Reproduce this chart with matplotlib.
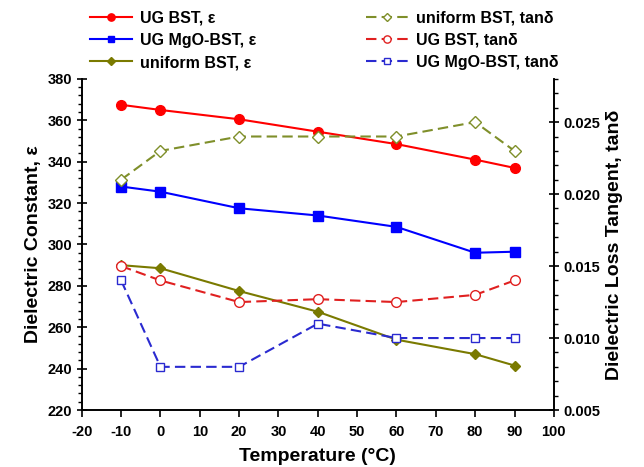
import matplotlib
matplotlib.use("Agg")
import matplotlib.pyplot as plt
from matplotlib.ticker import MultipleLocator, FormatStrFormatter

plt.rcParams['font.family'] = ['Liberation Sans', 'DejaVu Sans']
plt.rcParams['font.weight'] = 'bold'
plt.rcParams['axes.unicode_minus'] = False

temp = [-10, 0, 20, 40, 60, 80, 90]

# dielectric constant (left axis)
eps_ug_bst = [367.5, 365, 360.5, 354.5, 348.5, 341, 337]
eps_ug_mgo = [328, 325.5, 317.5, 314, 308.5, 296, 296.5]
eps_uniform = [290, 288.5, 277.5, 267.5, 254, 247, 241.5]

# loss tangent (right axis)
tan_uniform = [0.021, 0.023, 0.024, 0.024, 0.024, 0.025, 0.023]
tan_ug_bst = [0.015, 0.014, 0.0125, 0.0127, 0.0125, 0.013, 0.014]
tan_ug_mgo = [0.014, 0.008, 0.008, 0.011, 0.010, 0.010, 0.010]

fig = plt.figure(figsize=(6.44, 4.67), dpi=100)
ax = fig.add_axes([0.127, 0.122, 0.733, 0.709])
ax2 = ax.twinx()

h1, = ax.plot(temp, eps_ug_bst, '-o', color='#ff0000', lw=1.5, ms=7,
              label='UG BST, \u03b5')
h2, = ax.plot(temp, eps_ug_mgo, '-s', color='#0000ff', lw=1.5, ms=6.5,
              label='UG MgO-BST, \u03b5')
h3, = ax.plot(temp, eps_uniform, '-D', color='#7a7a00', lw=1.5, ms=5.5,
              label='uniform BST, \u03b5')

dash = (5, 2.5)
h4, = ax2.plot(temp, tan_uniform, '--D', color='#7f8f2a', lw=1.5, ms=6,
               mfc='white', dashes=dash, label='uniform BST, tan\u03b4')
h5, = ax2.plot(temp, tan_ug_bst, '--o', color='#e02020', lw=1.5, ms=7,
               mfc='white', dashes=dash, label='UG BST, tan\u03b4')
h6, = ax2.plot(temp, tan_ug_mgo, '--s', color='#2a2ad0', lw=1.5, ms=6,
               mfc='white', dashes=dash, label='UG MgO-BST, tan\u03b4')

ax.set_xlim(-20, 100)
ax.set_ylim(220, 380)
ax2.set_ylim(0.005, 0.028)

ax.xaxis.set_major_locator(MultipleLocator(10))
ax.yaxis.set_major_locator(MultipleLocator(20))
ax.yaxis.set_minor_locator(MultipleLocator(4))
ax2.yaxis.set_major_locator(MultipleLocator(0.005))
ax2.yaxis.set_minor_locator(MultipleLocator(0.001))
ax2.yaxis.set_major_formatter(FormatStrFormatter('%.3f'))

for a in (ax, ax2):
    a.spines['top'].set_visible(False)
    for s in a.spines.values():
        s.set_linewidth(1.2)
ax.tick_params(axis='x', direction='out', length=5, width=1.2, labelsize=10.5,
               pad=6)
ax.tick_params(axis='y', which='major', direction='inout', length=7, width=1.2,
               labelsize=10.5)
ax.tick_params(axis='y', which='minor', direction='out', length=3, width=1)
ax2.tick_params(axis='y', which='major', direction='inout', length=7, width=1.2,
                labelsize=10.5)
ax2.tick_params(axis='y', which='minor', direction='out', length=3, width=1)

ax.set_xlabel('Temperature (\u00b0C)', fontsize=14, fontweight='bold',
              labelpad=6)
ax.set_ylabel('Dielectric Constant, \u03b5', fontsize=14, fontweight='bold')
ax2.set_ylabel('Dielectric Loss Tangent, tan\u03b4', fontsize=14,
               fontweight='bold')

fig.legend(handles=[h1, h2, h3, h4, h5, h6], ncol=2, frameon=False,
           loc='upper left', bbox_to_anchor=(0.118, 1.008),
           handlelength=2.6, handletextpad=0.5, columnspacing=6.9,
           labelspacing=0.45, markerscale=0.75,
           prop={'weight': 'bold', 'size': 11.5})

fig.savefig('out.png', dpi=100)
